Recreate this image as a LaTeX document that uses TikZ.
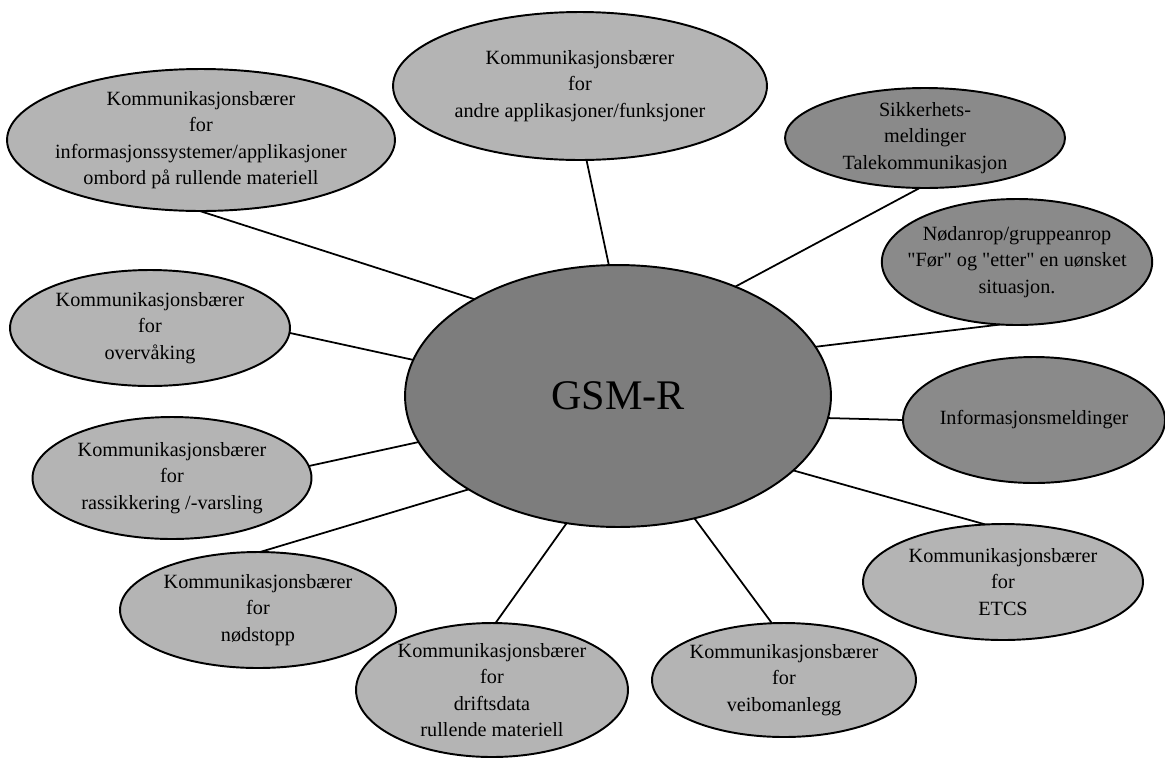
\documentclass[tikz,border=0pt]{standalone}
\usepackage{fontspec}
\setmainfont{Liberation Serif}
\usetikzlibrary{shapes.geometric}
\definecolor{bubblegray}{RGB}{180,180,180}
\definecolor{alertgray}{RGB}{138,138,138}
\definecolor{coregray}{RGB}{125,125,125}

\begin{document}
\begin{tikzpicture}[x=0.02cm,y=-0.02cm,
      every node/.style={ellipse,draw=black,line width=1.1pt,outer sep=0pt,
                         align=center,font=\fontsize{11.5}{15}\selectfont},
      bubble/.style={fill=bubblegray,inner xsep=-8pt,inner ysep=-4pt},
      alert/.style={bubble,fill=alertgray},
      link/.style={draw=black,line width=1pt}]
    \useasboundingbox (0,0) rectangle (1165,758);

    % centre
    \node [fill=coregray,inner sep=0pt,minimum width=8.52cm,minimum height=5.24cm,
           font=\fontsize{24}{28}\selectfont] (gsm) at (618,396) {GSM-R};

    % satellites
    \node [bubble,minimum width=7.48cm,minimum height=2.96cm] (andre) at (580,86)
      {Kommunikasjonsbærer\\for\\andre applikasjoner/funksjoner};
    \node [bubble,minimum width=7.76cm,minimum height=2.84cm] (infosys) at (201,140)
      {Kommunikasjonsbærer\\for\\informasjonssystemer/applikasjoner\\ombord på rullende materiell};
    \node [alert,minimum width=5.6cm,minimum height=2.0cm] (sikker) at (925,138)
      {Sikkerhets-\\meldinger\\Talekommunikasjon};
    \node [alert,minimum width=5.32cm,minimum height=2.52cm] (nodanrop) at (1017,262)
      {Nødanrop/gruppeanrop\\\textquotedbl Før\textquotedbl{} og \textquotedbl etter\textquotedbl{} en uønsket\\situasjon.};
    \node [bubble,minimum width=5.6cm,minimum height=2.32cm] (overv) at (150,328)
      {Kommunikasjonsbærer\\for\\overvåking};
    \node [alert,minimum width=5.24cm,minimum height=2.52cm] (infomeld) at (1034,420)
      {Informasjonsmeldinger};
    \node [bubble,minimum width=5.58cm,minimum height=2.44cm] (rass) at (172,478)
      {Kommunikasjonsbærer\\for\\rassikkering /-varsling};
    \node [bubble,minimum width=5.6cm,minimum height=2.32cm] (etcs) at (1003,582)
      {Kommunikasjonsbærer\\for\\ETCS};
    \node [bubble,minimum width=5.52cm,minimum height=2.32cm] (nodstopp) at (258,610)
      {Kommunikasjonsbærer\\for\\nødstopp};
    \node [bubble,minimum width=5.44cm,minimum height=2.68cm] (drift) at (492,690)
      {Kommunikasjonsbærer\\for\\driftsdata\\rullende materiell};
    \node [bubble,minimum width=5.28cm,minimum height=2.28cm] (veibom) at (784,680)
      {Kommunikasjonsbærer\\for\\veibomanlegg};

    % spokes
    \foreach \n/\s/\g in {andre/-85/94, infosys/-91/146, sikker/-96/43,
                          nodanrop/-105/14, infomeld/180/-6, etcs/107/-23,
                          veibom/102/-58, drift/87/-112, nodstopp/88/-148,
                          rass/5/-167, overv/-2/170}
      \draw [link] (\n.\s) -- (gsm.\g);
  \end{tikzpicture}
\end{document}
